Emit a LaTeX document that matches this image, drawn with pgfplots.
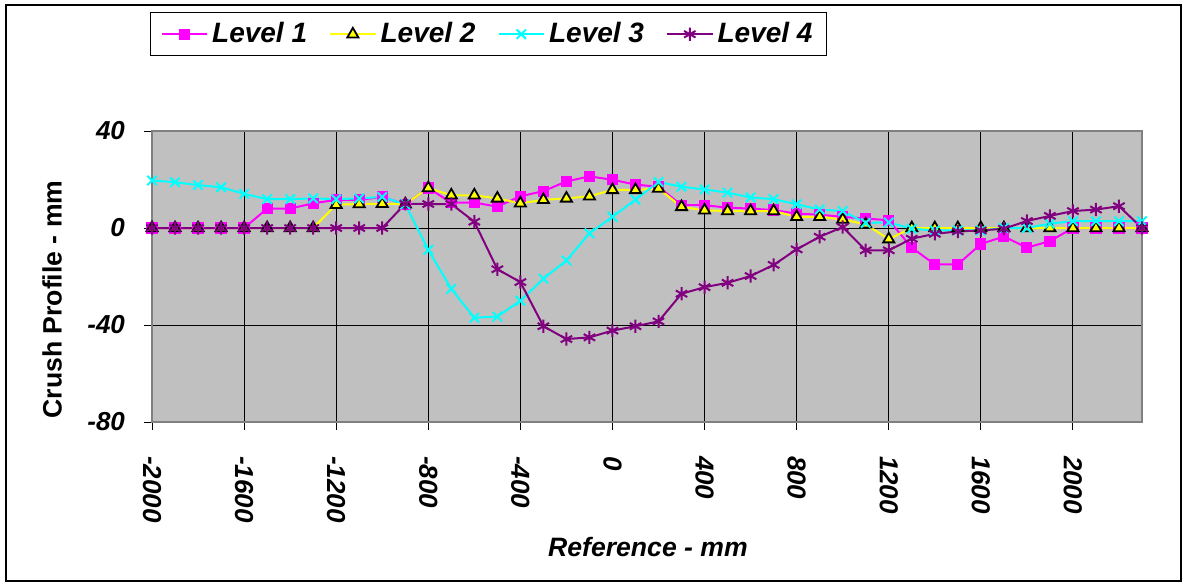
\documentclass[border=0pt]{standalone}
\usepackage{fontspec}
\setmainfont{Liberation Sans}
\usepackage{pgfplots}
\pgfplotsset{compat=1.18}
\definecolor{bggray}{RGB}{192,192,192}
\definecolor{edgegray}{RGB}{128,128,128}
\definecolor{lvone}{RGB}{255,0,255}
\definecolor{lvtwo}{RGB}{255,255,0}
\definecolor{lvthree}{RGB}{0,255,255}
\definecolor{lvfour}{RGB}{128,0,128}
\begin{document}
\begin{tikzpicture}
\path (0,0) rectangle (593.5pt,293pt);
\draw[black, line width=1pt] (3pt,2.5pt) rectangle (590.5pt,290.5pt);
\begin{axis}[
  at={(76pt,82pt)}, anchor=south west,
  scale only axis, width=495pt, height=145.5pt,
  xmin=-2000, xmax=2300, ymin=-80, ymax=40,
  clip=false,
  axis background/.style={fill=bggray},
  axis line style={draw=edgegray, line width=0.8pt},
  xtick={-2000,-1600,-1200,-800,-400,0,400,800,1200,1600,2000},
  xticklabels={-2000,-1600,-1200,-800,-400,0,400,800,1200,1600,2000},
  ytick={-80,-40,0,40},
  yticklabels={-80,-40,0,40},
  xtick pos=bottom, ytick pos=left,
  tick align=outside, major tick length=4pt,
  tick style={black, line width=0.5pt},
  xmajorgrids, ymajorgrids,
  major grid style={black, line width=0.5pt},
  ticklabel style={font=\fontsize{13}{15}\selectfont\bfseries\itshape},
  xticklabel style={yshift=-9.5pt, rotate=-90, anchor=west},
  yticklabel style={xshift=-6pt},
  every axis x label/.style={at={(axis description cs:0.501,-0.43)}, anchor=center},
  every axis y label/.style={at={(axis description cs:-0.101,-0.012)}, rotate=90, anchor=west},
  xlabel={\fontsize{13.3}{15}\selectfont\bfseries\itshape Reference - mm},
  ylabel={\fontsize{13.3}{15}\selectfont\bfseries Crush Profile - mm},
  legend columns=4,
  legend style={at={(axis description cs:-0.002,1.409)}, anchor=north west,
    draw=black, fill=white, line width=0.6pt, inner ysep=3pt, inner xsep=5pt,
    font=\fontsize{14}{15}\selectfont\bfseries\itshape,
    /tikz/every even column/.append style={column sep=9pt}},
  legend image code/.code={\draw[mark repeat=2,mark phase=2] plot coordinates {(0cm,0cm) (0.4cm,0cm) (0.8cm,0cm)};},
]
\addplot[lvone, line width=1pt, mark=square*, mark size=2.3pt, mark options={fill=lvone, draw=lvone}] coordinates {
(-2000,0) (-1900,0) (-1800,0) (-1700,0) (-1600,0) (-1500,8) (-1400,8) (-1300,10.2) (-1200,11.6) (-1100,11.6)
(-1000,12.8) (-900,9.8) (-800,16.5) (-700,10.4) (-600,10.5) (-500,8.8) (-400,13.1) (-300,15.2) (-200,19.2) (-100,21.3)
(0,19.9) (100,17.9) (200,17) (300,9.4) (400,9.4) (500,8.4) (600,8) (700,7.4) (800,5.9) (900,5.5)
(1000,4.6) (1100,3.9) (1200,3.2) (1300,-8.1) (1400,-15) (1500,-15) (1600,-6.6) (1700,-3.5) (1800,-8.1) (1900,-5.4)
(2000,0) (2100,0) (2200,0) (2300,0)};
\addlegendentry{Level 1}
\addplot[lvtwo, line width=1pt, mark=triangle*, mark size=3.2pt, mark options={fill=lvtwo, draw=black, line width=0.9pt}] coordinates {
(-2000,0) (-1900,0) (-1800,0) (-1700,0) (-1600,0) (-1500,0) (-1400,0) (-1300,0) (-1200,9.6) (-1100,9.9)
(-1000,10) (-900,9.8) (-800,16.5) (-700,13.5) (-600,13.5) (-500,12.2) (-400,10.2) (-300,11.6) (-200,12.2) (-100,13.1)
(0,15.7) (100,15.7) (200,16.3) (300,8.7) (400,7.3) (500,7) (600,7) (700,7) (800,4.6) (900,4.6)
(1000,3.5) (1100,1.5) (1200,-4.6) (1300,0) (1400,0) (1500,0) (1600,0) (1700,0) (1800,0) (1900,0)
(2000,0) (2100,0) (2200,0) (2300,0)};
\addlegendentry{Level 2}
\addplot[lvthree, line width=1pt, mark=x, mark size=3.3pt, mark options={draw=lvthree, line width=1pt}] coordinates {
(-2000,19.6) (-1900,18.9) (-1800,17.7) (-1700,16.8) (-1600,14.1) (-1500,11.9) (-1400,11.9) (-1300,12.2) (-1200,11.9) (-1100,12.2)
(-1000,12.8) (-900,9.8) (-800,-9) (-700,-25.1) (-600,-37) (-500,-36.5) (-400,-30) (-300,-20.9) (-200,-13.4) (-100,-2.2)
(0,4.6) (100,11.7) (200,19) (300,17) (400,15.9) (500,14.6) (600,12.6) (700,11.9) (800,9.8) (900,7.6)
(1000,7) (1100,2.1) (1200,2.3) (1300,-0.3) (1400,-1) (1500,-1) (1600,-1) (1700,0) (1800,0) (1900,1.8)
(2000,2.8) (2100,2.8) (2200,2.8) (2300,2.8)};
\addlegendentry{Level 3}
\addplot[lvfour, line width=1pt, mark=asterisk, mark size=3.3pt, mark options={draw=lvfour, line width=1pt}] coordinates {
(-2000,0) (-1900,0) (-1800,0) (-1700,0) (-1600,0) (-1500,0) (-1400,0) (-1300,0) (-1200,0) (-1100,0)
(-1000,0) (-900,10) (-800,9.9) (-700,9.9) (-600,2.6) (-500,-17) (-400,-22.3) (-300,-40.5) (-200,-45.8) (-100,-45.1)
(0,-42.3) (100,-40.5) (200,-38.5) (300,-27.1) (400,-24.4) (500,-22.6) (600,-19.8) (700,-15.2) (800,-8.8) (900,-3.6)
(1000,0.4) (1100,-9.2) (1200,-9.2) (1300,-4.4) (1400,-2.4) (1500,-1.4) (1600,-1) (1700,-0.3) (1800,2.9) (1900,5)
(2000,7) (2100,7.6) (2200,9) (2300,0)};
\addlegendentry{Level 4}
\end{axis}
\end{tikzpicture}
\end{document}
